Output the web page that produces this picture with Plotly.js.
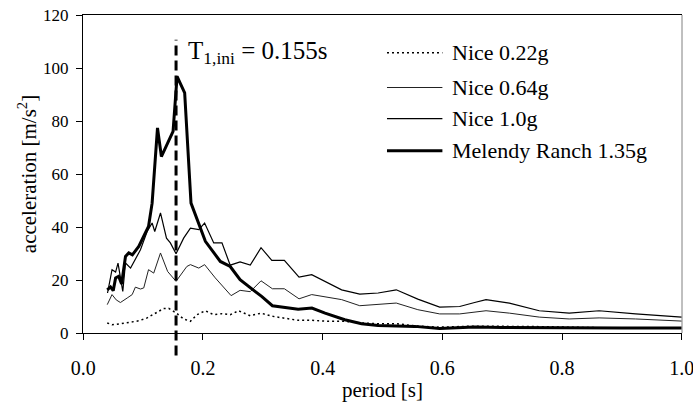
<!DOCTYPE html>
<html>
<head>
<meta charset="utf-8">
<script src="https://cdn.plot.ly/plotly-3.0.1.min.js"></script>
<style>html,body{margin:0;padding:0;background:#fff;}#chart{width:693px;height:406px;}</style>
</head>
<body>
<div id="chart"></div>
<script>
// ---- data ----
const T1 = 0.155; // initial first period [s]

const nice022_x = [0.040,0.048,0.062,0.079,0.0927,0.1067,0.1205,0.134,0.1427,0.1555,0.1677,0.179,0.190,0.204,0.2177,0.2317,0.2455,0.2593,0.279,0.297,0.316,0.336,0.359,0.382,0.409,0.437,0.465,0.4927,0.523,0.559,0.5955,0.654,0.712,0.762,0.812,0.862,1.0];
const nice022_y = [3.8,3.1,3.5,4.0,4.6,5.7,7.5,9.2,9.3,7.5,5.3,4.4,6.9,8.4,6.9,7.3,6.9,8.4,6.5,7.5,6.3,5.7,4.8,4.8,4.4,4.4,3.8,3.5,3.5,2.6,2.2,2.6,2.6,2.4,2.2,2.0,1.9];

const nice064_x = [0.040,0.048,0.055,0.062,0.0733,0.0817,0.087,0.0955,0.101,0.109,0.1177,0.129,0.141,0.155,0.173,0.179,0.193,0.2027,0.2205,0.247,0.262,0.279,0.297,0.316,0.336,0.3605,0.3817,0.4317,0.462,0.4927,0.523,0.559,0.5955,0.629,0.654,0.673,0.712,0.762,0.812,0.862,0.923,1.0];
const nice064_y = [10.7,14.5,12.5,11.5,13.2,14.5,17.3,16.6,17.0,23.9,22.6,30.2,23.2,19.5,25.1,25.8,24.5,25.8,20.8,14.1,16.1,15.6,19.7,16.7,16.7,12.9,14.5,12.6,10.3,10.7,11.3,8.8,7.2,7.2,7.9,8.4,7.5,6.0,5.3,5.7,5.3,4.5];

const nice10_x = [0.0405,0.048,0.054,0.058,0.066,0.0705,0.079,0.0955,0.1067,0.115,0.1194,0.129,0.139,0.1455,0.155,0.1677,0.179,0.193,0.2027,0.218,0.2317,0.2455,0.262,0.279,0.297,0.315,0.336,0.3605,0.3817,0.4317,0.462,0.4927,0.523,0.559,0.5955,0.629,0.654,0.673,0.712,0.762,0.812,0.862,0.923,1.0];
const nice10_y = [15.1,23.9,23.0,26.4,15.7,26.4,24.5,31.4,38.3,41.5,38.3,45.3,35.8,34.0,29.9,35.8,39.6,39.0,41.5,34.0,34.0,25.6,26.8,25.6,32.2,27.4,27.4,21.1,22.0,16.3,14.7,15.1,16.3,12.8,9.8,10.0,11.5,12.6,11.3,8.4,7.5,8.4,7.2,6.0];

const mel_x = [0.040,0.0455,0.050,0.054,0.059,0.064,0.0705,0.076,0.082,0.0927,0.101,0.109,0.115,0.124,0.1305,0.150,0.1567,0.1694,0.180,0.187,0.1955,0.204,0.229,0.2455,0.262,0.284,0.298,0.316,0.337,0.359,0.382,0.404,0.437,0.465,0.4927,0.554,0.5955,0.654,0.70,0.80,0.90,1.0];
const mel_y = [16.3,17.4,16.0,20.8,21.4,18.5,28.9,30.2,29.5,32.7,36.5,40.2,49.0,77.4,66.6,76.1,96.8,90.6,49.0,44.6,39.5,34.6,27.0,25.1,20.1,16.3,13.8,10.3,9.8,9.0,9.4,7.5,5.0,3.5,2.8,2.5,1.7,2.3,2.1,1.9,1.9,1.9];

const seriesNames = ['Nice 0.22g','Nice 0.64g','Nice 1.0g','Melendy Ranch 1.35g'];
const xTicks = [0.0,0.2,0.4,0.6,0.8,1.0];
const yTicks = [0,20,40,60,80,100,120];

// ---- styles ----
const FONT = 'Times New Roman, Liberation Serif, DejaVu Serif, serif';
const styles = [
  {color:'#000', width:1.5, dash:'2px,3px'},
  {color:'#222', width:1, dash:'solid'},
  {color:'#000', width:1.2, dash:'solid'},
  {color:'#000', width:3, dash:'solid'}
];
const xs = [nice022_x, nice064_x, nice10_x, mel_x];
const ys = [nice022_y, nice064_y, nice10_y, mel_y];

const traces = seriesNames.map((n,i)=>({
  type:'scatter', mode:'lines', name:n, x:xs[i], y:ys[i],
  line:{color:styles[i].color, width:styles[i].width, dash:styles[i].dash},
  showlegend:false, hoverinfo:'skip'
}));

const xRange = [-0.0005, 1.0005];
const t1Paper = (T1 - xRange[0])/(xRange[1]-xRange[0]);

// manual legend (positions in paper coords)
const legRowsY = [0.881, 0.772, 0.674, 0.573];
const legLineX = [0.5075, 0.600];
const legTextX = 0.613;
const shapes = [
  {type:'line', xref:'paper', yref:'paper', x0:t1Paper, x1:t1Paper, y0:-0.071, y1:0.922,
   line:{color:'#000', width:3, dash:'10px,5px'}},
  {type:'line', xref:'paper', yref:'paper', x0:1, x1:1, y0:0, y1:1, line:{color:'#808080', width:1}}
];
const annotations = [
  {xref:'paper', yref:'paper', x:t1Paper, xshift:10, y:0.881, xanchor:'left', yanchor:'middle',
   text:'T<sub>1,ini</sub> = ' + T1 + 's', showarrow:false, font:{family:FONT, size:25, color:'#000'}}
];
seriesNames.forEach((n,i)=>{
  shapes.push({type:'line', xref:'paper', yref:'paper', x0:legLineX[0], x1:legLineX[1],
    y0:legRowsY[i], y1:legRowsY[i], line:{color:styles[i].color, width:styles[i].width, dash:styles[i].dash}});
  annotations.push({xref:'paper', yref:'paper', x:legTextX, y:legRowsY[i], xanchor:'left', yanchor:'middle',
    text:n, showarrow:false, font:{family:FONT, size:22, color:'#000'}});
});

const layout = {
  width:693, height:406,
  margin:{l:83, r:11, t:15, b:73, pad:0},
  paper_bgcolor:'#fff', plot_bgcolor:'#fff',
  font:{family:FONT, color:'#000', size:18},
  showlegend:false,
  xaxis:{range:xRange, tickvals:xTicks, ticktext:xTicks.map(v=>v.toFixed(1)),
    ticks:'outside', ticklen:6, tickcolor:'#000', showline:true, linecolor:'#000', linewidth:1,
    mirror:true, showgrid:false, zeroline:false, ticklabeloverflow:'allow', ticklabelstandoff:11,
    tickfont:{family:FONT, size:20, color:'#000'},
    title:{text:'period [s]', font:{family:FONT, size:21, color:'#000'}, standoff:4}},
  yaxis:{range:[0,120], tickvals:yTicks, ticks:'outside', ticklen:6, tickcolor:'#000',
    showline:true, linecolor:'#000', linewidth:1, showgrid:false, zeroline:false,
    ticklabelstandoff:4,
    tickfont:{family:FONT, size:17, color:'#000'},
    title:{text:'acceleration [m/s<sup>2</sup>]', font:{family:FONT, size:21, color:'#000'}, standoff:0}},
  shapes:shapes, annotations:annotations
};

Plotly.newPlot('chart', traces, layout, {displayModeBar:false, staticPlot:true});
</script>
</body>
</html>
